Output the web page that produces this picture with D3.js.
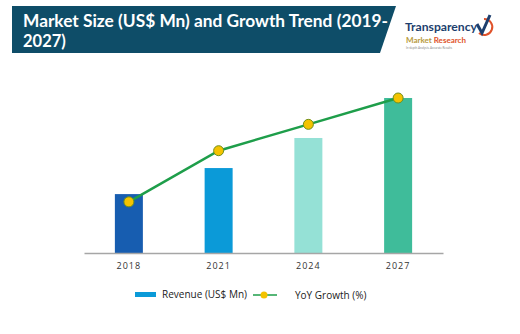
<!DOCTYPE html>
<html>
<head>
<meta charset="utf-8">
<script src="https://cdn.jsdelivr.net/npm/d3@7"></script>
<style>
  body { margin: 0; background: #fff; }
  svg { display: block; font-family: 'Open Sans', 'DejaVu Sans', sans-serif; }
</style>
</head>
<body>
<div id="chart"></div>
<script>
// Chart data
const years = ['2018', '2021', '2024', '2027'];
const revenue = [380, 548, 742, 1000];
const growth = [3.3, 6.6, 8.3, 10.0];
const barColors = ['#175db0', '#0b9ad8', '#95e1d6', '#3fbc9a'];
const titleLines = ['Market Size (US$ Mn) and Growth Trend (2019-', '2027)'];

const width = 520;
const height = 334;

const svg = d3.select('#chart').append('svg')
    .attr('width', width)
    .attr('height', height);

// Title banner with slanted right edge
svg.append('path')
    .attr('d', 'M12,6 L396,6 L380,53 L12,53 Z')
    .attr('fill', '#0e4d68');

svg.selectAll('.title')
    .data(titleLines)
  .enter().append('text')
    .attr('class', 'title')
    .attr('x', 23)
    .attr('y', (d, i) => 27 + i * 20)
    .attr('fill', '#fff')
    .attr('font-family', 'Lato, sans-serif')
    .attr('font-weight', 700)
    .attr('font-size', 16.5)
    .attr('textLength', (d, i) => (i === 0 ? 365 : null))
    .attr('lengthAdjust', 'spacingAndGlyphs')
    .text(d => d);

// Logo
const logo = svg.append('g').attr('font-family', 'Lato, sans-serif');
logo.append('text')
    .attr('x', 405)
    .attr('y', 31)
    .attr('font-size', 12)
    .attr('font-weight', 700)
    .attr('fill', '#1d3f6e')
    .attr('textLength', 72)
    .attr('lengthAdjust', 'spacingAndGlyphs')
    .text('Transparency');
const mr = logo.append('text')
    .attr('x', 406)
    .attr('y', 43)
    .attr('font-size', 8)
    .attr('font-weight', 700);
mr.append('tspan').attr('fill', '#b89a3c').text('Market ');
mr.append('tspan').attr('fill', '#e0522a').text('Research');
logo.append('text')
    .attr('x', 406)
    .attr('y', 49)
    .attr('font-size', 3)
    .attr('fill', '#888')
    .text('In-depth Analysis. Accurate Results');
logo.append('path')
    .attr('d', 'M484,19 A8,8 0 1 1 479,33')
    .attr('fill', 'none')
    .attr('stroke', '#e0522a')
    .attr('stroke-width', 2);
logo.append('path')
    .attr('d', 'M477,24 L482,33 L490,15')
    .attr('fill', 'none')
    .attr('stroke', '#1d3f6e')
    .attr('stroke-width', 3);

// Scales
const baseline = 253;
const x = d3.scaleBand()
    .domain(years)
    .range([84, 443])
    .paddingInner(0.688)
    .paddingOuter(0.344);
const y = d3.scaleLinear().domain([0, 1000]).range([baseline, 98]);
const yGrowth = d3.scaleLinear().domain([0, 10]).range([baseline, 98]);

// Bars
svg.append('g')
  .selectAll('rect')
    .data(revenue)
  .enter().append('rect')
    .attr('x', (d, i) => x(years[i]))
    .attr('y', d => y(d))
    .attr('width', x.bandwidth())
    .attr('height', d => baseline - y(d))
    .attr('fill', (d, i) => barColors[i]);

// Axis
const axis = svg.append('g')
    .attr('transform', `translate(0,${baseline})`)
    .call(d3.axisBottom(x).tickSize(0).tickSizeOuter(0).tickPadding(10));
axis.select('.domain')
    .attr('stroke', '#a6a6a6')
    .attr('stroke-width', 1.5);
axis.selectAll('text')
    .attr('font-size', 9)
    .attr('fill', '#333')
    .attr('letter-spacing', 1)
    .attr('font-family', "'Open Sans', sans-serif");

// Growth line
const cx = d => x(d) + x.bandwidth() / 2;
const line = d3.line()
    .x((d, i) => cx(years[i]))
    .y(d => yGrowth(d));

svg.append('path')
    .datum(growth)
    .attr('d', line)
    .attr('fill', 'none')
    .attr('stroke', '#1e9e4a')
    .attr('stroke-width', 2.5);

svg.append('g')
  .selectAll('circle')
    .data(growth)
  .enter().append('circle')
    .attr('cx', (d, i) => cx(years[i]))
    .attr('cy', d => yGrowth(d))
    .attr('r', 5)
    .attr('fill', '#f4c300')
    .attr('stroke', '#6f8f1e')
    .attr('stroke-width', 1);

// Legend
const legend = svg.append('g');
legend.append('rect')
    .attr('x', 135)
    .attr('y', 292)
    .attr('width', 21)
    .attr('height', 5)
    .attr('fill', '#0b9ad8');
legend.append('text')
    .attr('x', 162)
    .attr('y', 298)
    .attr('font-size', 10)
    .attr('fill', '#222')
    .text('Revenue (US$ Mn)');
legend.append('line')
    .attr('x1', 253)
    .attr('x2', 277)
    .attr('y1', 295)
    .attr('y2', 295)
    .attr('stroke', '#1e9e4a')
    .attr('stroke-width', 1.5);
legend.append('circle')
    .attr('cx', 264)
    .attr('cy', 295)
    .attr('r', 3.5)
    .attr('fill', '#f4c300');
legend.append('text')
    .attr('x', 295)
    .attr('y', 299)
    .attr('font-size', 10)
    .attr('fill', '#222')
    .text('YoY Growth (%)');
</script>
</body>
</html>
